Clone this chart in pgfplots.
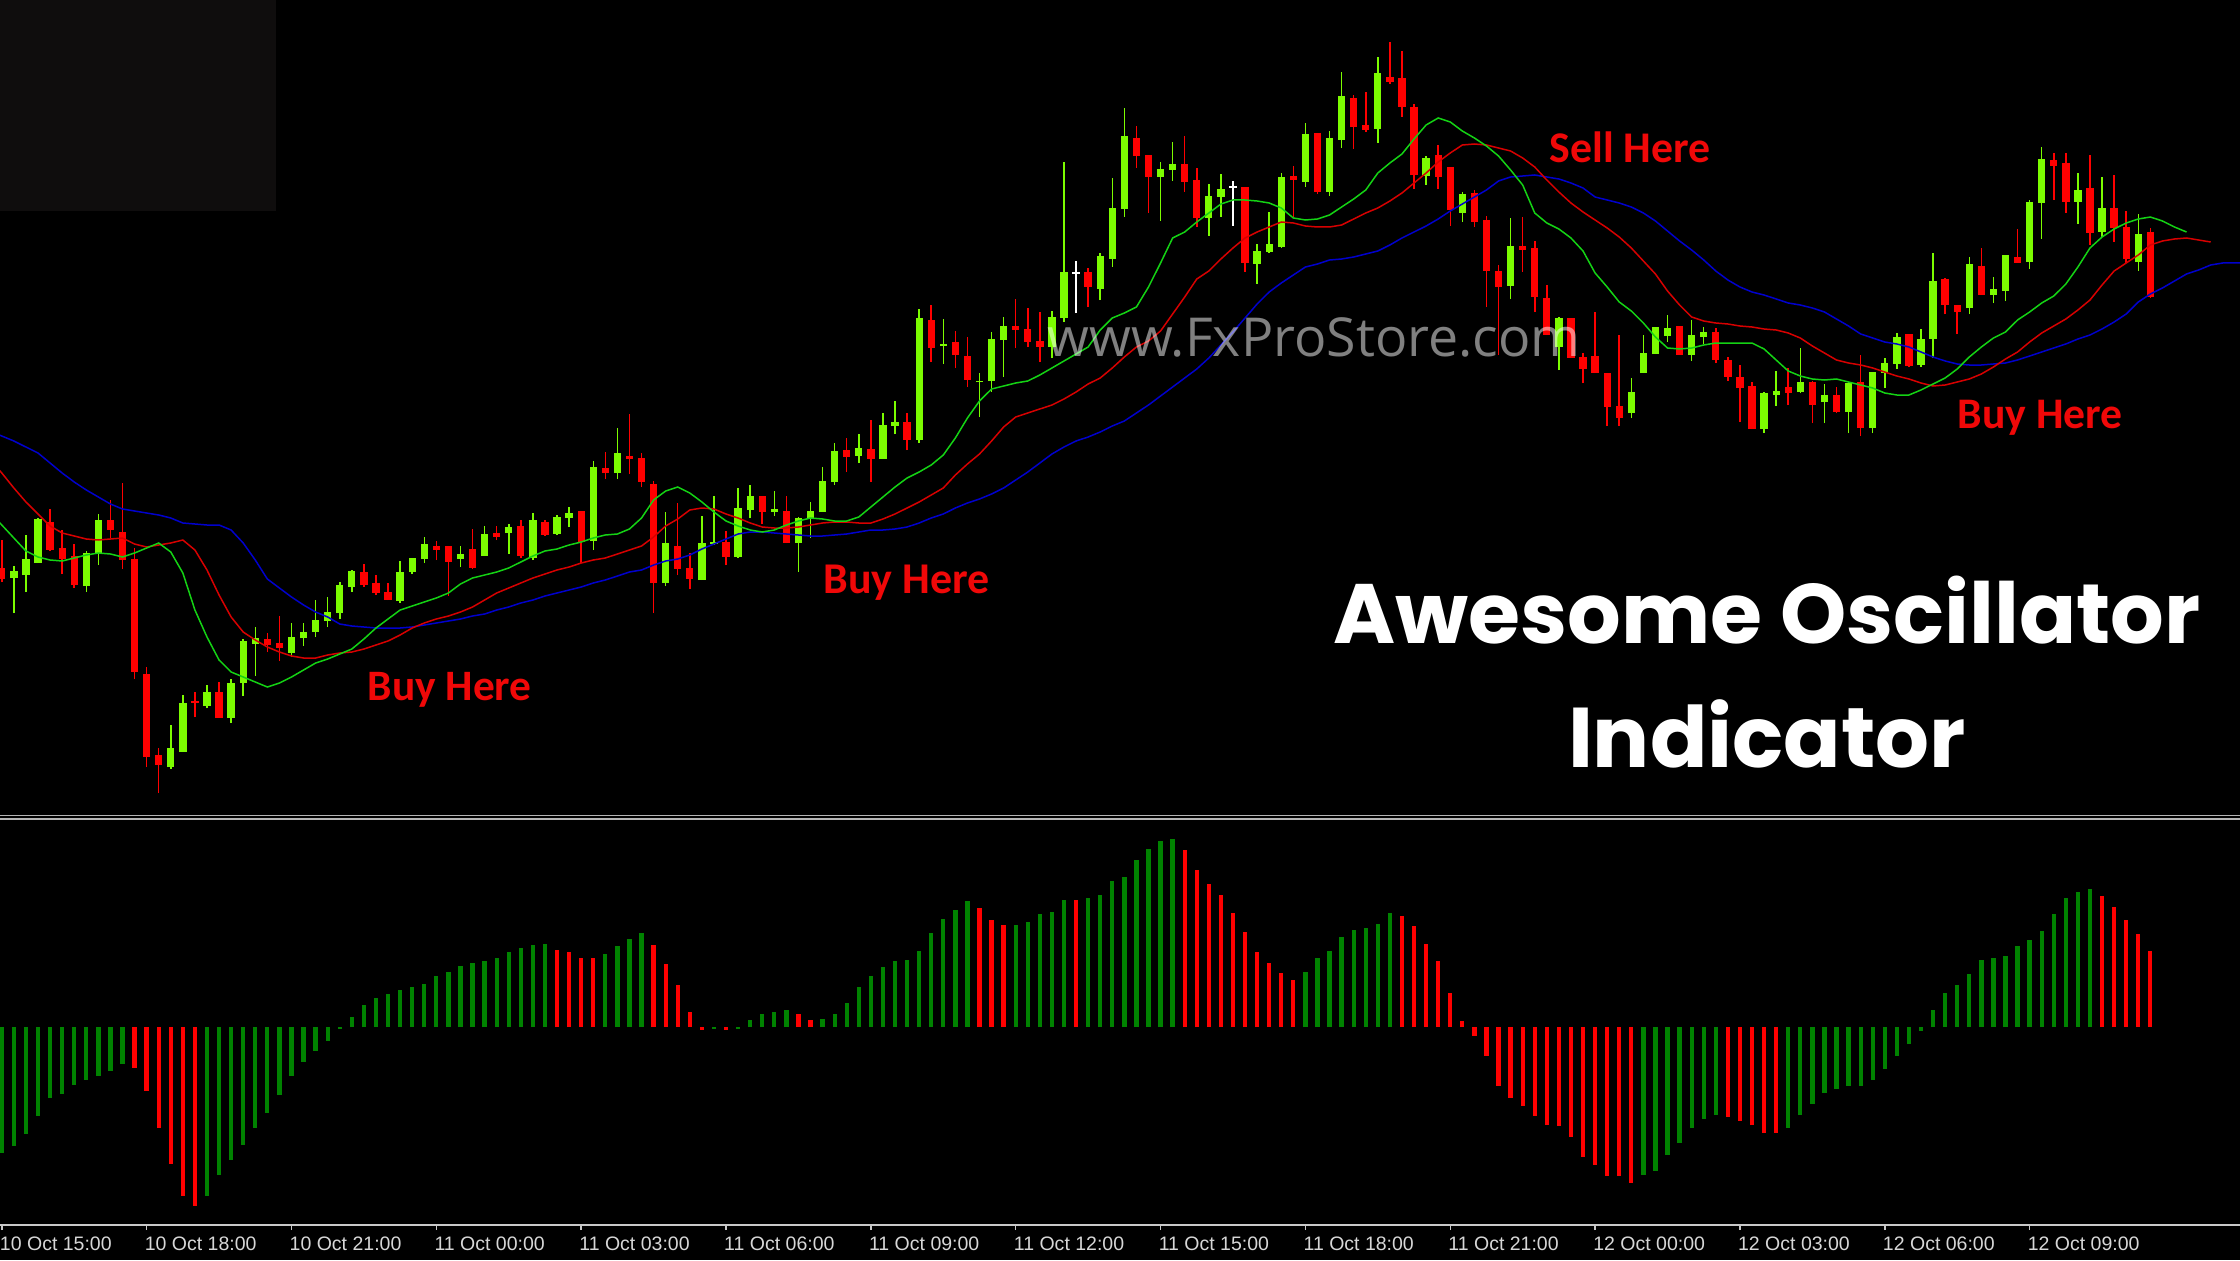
\documentclass[border=0pt]{standalone}
\usepackage{pgfplots}
\pgfplotsset{compat=1.18}
\usepackage{pgfplotstable}
\usepackage{graphicx}
\usepackage{fontspec}
\setmainfont{Liberation Sans}
\newfontfamily\titlefont{Poppins}
\newfontfamily\notefont{Carlito}
\newfontfamily\markfont{Open Sans}

\definecolor{bull}{RGB}{124,252,0}
\definecolor{bear}{RGB}{255,0,0}
\definecolor{jaw}{RGB}{0,0,205}
\definecolor{teeth}{RGB}{215,0,0}
\definecolor{lips}{RGB}{20,210,20}
\definecolor{aoup}{RGB}{0,130,0}
\definecolor{aodown}{RGB}{255,0,0}
\definecolor{axisgray}{RGB}{200,200,200}
\definecolor{labelgray}{RGB}{215,215,215}
\definecolor{sepgray}{RGB}{180,180,180}
\definecolor{panelbox}{RGB}{15,13,13}
\definecolor{note}{RGB}{240,8,8}

% 15-minute candles: bar index, open, high, low, close
\pgfplotstableread{
i O H L C
0 262 290 248 251
1 252 264 217 259
2 255 295 238 271
3 267 312 267 311
4 308 321 279 280
5 282 300 256 271
6 274 286 242 245
7 244 279 238 277
8 276 316 265 310
9 310 330 292 300
10 298 347 261 270
11 271 282 151 158
12 156 163 63 73
13 75 82 37 65
14 63 105 61 82
15 78 135 78 127
16 129 138 113 127
17 124 145 122 138
18 138 148 112 112
19 112 151 107 147
20 147 191 134 189
21 186 203 154 192
22 191 197 178 185
23 187 214 169 182
24 177 207 173 193
25 192 207 184 198
26 198 230 193 210
27 209 233 203 218
28 217 248 211 245
29 243 260 238 259
30 258 266 243 245
31 247 255 235 237
32 238 247 230 230
33 229 269 227 258
34 258 272 256 272
35 271 293 267 286
36 284 289 270 280
37 284 284 234 268
38 271 284 263 276
39 281 301 261 262
40 274 304 274 296
41 297 304 290 293
42 297 306 276 303
43 304 310 272 274
44 272 317 270 310
45 308 310 294 295
46 296 315 295 313
47 312 323 303 317
48 319 319 267 288
49 289 369 280 363
50 362 378 351 357
51 357 402 351 377
52 374 416 356 371
53 372 377 343 348
54 346 349 217 247
55 247 318 244 287
56 284 327 255 261
57 262 277 241 251
58 250 314 250 287
59 286 334 285 288
60 288 299 265 273
61 273 342 272 322
62 320 345 312 334
63 334 334 306 318
64 318 339 314 321
65 319 334 287 287
66 287 313 258 312
67 311 328 292 319
68 318 363 318 349
69 348 387 345 379
70 380 392 358 373
71 374 396 367 382
72 381 410 348 371
73 371 417 371 405
74 404 429 396 408
75 408 417 380 390
76 390 521 387 512
77 510 525 468 482
78 484 511 466 486
79 488 499 462 475
80 474 493 443 450
81 448 457 413 449
82 449 498 438 491
83 490 513 453 504
84 504 531 482 500
85 501 522 483 488
86 489 518 468 483
87 483 519 472 513
88 512 668 508 558
89 557 569 517 557
90 558 562 523 543
91 541 577 530 574
92 571 652 563 622
93 621 722 613 694
94 692 704 662 674
95 675 675 617 653
96 653 668 609 661
97 660 688 649 666
98 666 694 638 648
99 650 662 603 612
100 612 646 594 634
101 633 656 613 641
102 643 649 604 643
103 643 643 558 567
104 566 586 546 579
105 578 618 577 586
106 583 657 582 653
107 654 664 613 650
108 648 707 643 696
109 697 697 636 638
110 638 699 634 692
111 690 758 682 734
112 732 735 681 703
113 705 738 698 700
114 701 773 687 757
115 753 788 746 748
116 752 779 713 723
117 723 726 641 655
118 654 674 645 672
119 675 685 641 653
120 663 663 604 620
121 617 638 608 636
122 637 640 603 608
123 610 614 523 559
124 559 565 475 543
125 544 612 531 584
126 584 613 558 580
127 582 589 518 533
128 532 545 495 495
129 483 513 460 512
130 512 512 472 472
131 473 477 447 461
132 474 518 457 457
133 457 457 404 423
134 424 495 404 412
135 417 452 412 438
136 457 495 457 477
137 476 503 476 503
138 494 515 488 502
139 504 504 475 475
140 475 510 469 495
141 493 503 486 498
142 498 502 467 470
143 470 473 449 453
144 453 465 408 442
145 444 448 401 401
146 401 438 397 437
147 435 459 424 439
148 443 462 425 437
149 438 482 437 448
150 448 449 407 425
151 428 446 407 435
152 435 443 417 418
153 418 448 397 447
154 448 475 394 402
155 402 458 397 458
156 457 472 442 467
157 466 497 461 493
158 496 496 463 464
159 465 501 463 491
160 491 577 472 549
161 551 552 516 525
162 525 525 496 518
163 522 573 516 566
164 564 582 535 535
165 535 553 527 541
166 539 575 529 575
167 573 601 567 567
168 568 630 561 628
169 627 683 591 671
170 670 677 630 664
171 667 677 617 628
172 628 657 606 640
173 642 675 585 597
174 598 653 593 622
175 622 655 588 602
176 603 619 567 571
177 568 616 559 596
178 598 602 532 533
}\candles

% Alligator lines (jaw, teeth, lips), already shifted forward
\pgfplotstableread{
i B R G
-1 399 371 318
0 394 357 305
1 389 342 292
2 383 328 279
3 377 316 273
4 367 304 270
5 357 297 269
6 348 294 272
7 340 291 275
8 333 290 277
9 326 291 276
10 321 292 273
11 319 286 277
12 317 283 282
13 315 285 287
14 312 287 278
15 307 290 257
16 306 280 220
17 305 260 193
18 305 235 170
19 300 213 158
20 287 198 153
21 270 190 148
22 251 183 143
23 242 178 147
24 233 174 153
25 225 172 160
26 218 172 167
27 213 175 171
28 206 177 176
29 204 178 181
30 203 181 191
31 202 185 202
32 202 189 211
33 202 195 220
34 203 202 224
35 205 207 228
36 207 211 232
37 209 214 237
38 211 218 246
39 214 223 252
40 216 230 255
41 220 237 258
42 223 242 262
43 227 247 268
44 230 252 274
45 234 256 279
46 237 260 281
47 240 263 285
48 243 267 288
49 247 270 292
50 250 272 295
51 254 276 296
52 258 280 301
53 260 284 312
54 265 293 330
55 269 304 339
56 271 311 343
57 275 320 337
58 281 322 328
59 286 321 318
60 291 316 309
61 296 312 304
62 298 307 300
63 298 303 298
64 297 302 300
65 296 302 305
66 295 303 309
67 294 305 312
68 294 307 311
69 295 308 309
70 296 308 309
71 298 307 313
72 300 307 323
73 300 311 333
74 301 316 343
75 303 322 352
76 307 328 358
77 312 335 365
78 316 342 375
79 322 355 392
80 327 366 412
81 331 376 429
82 336 389 441
83 342 403 444
84 350 413 447
85 358 417 449
86 367 421 455
87 376 425 462
88 383 431 469
89 389 438 476
90 393 446 483
91 398 452 500
92 404 462 512
93 409 473 517
94 417 483 523
95 425 489 543
96 434 499 567
97 443 516 592
98 452 533 598
99 461 551 608
100 472 559 617
101 485 571 626
102 498 582 630
103 512 592 630
104 526 598 629
105 538 603 627
106 547 608 622
107 555 607 612
108 563 604 610
109 566 603 611
110 570 603 615
111 571 605 623
112 573 611 631
113 576 617 640
114 579 622 657
115 585 629 667
116 592 637 676
117 598 647 691
118 604 657 705
119 611 668 712
120 619 677 708
121 626 685 699
122 633 686 692
123 640 685 684
124 649 682 674
125 653 679 660
126 654 672 645
127 655 663 617
128 653 650 607
129 651 638 601
130 647 627 592
131 642 618 579
132 633 610 557
133 630 602 543
134 627 593 528
135 623 582 519
136 617 569 507
137 609 556 493
138 599 539 482
139 589 525 481
140 580 513 482
141 570 509 485
142 559 507 487
143 550 506 487
144 543 504 487
145 538 503 487
146 535 501 481
147 531 500 470
148 527 497 459
149 525 492 454
150 522 484 451
151 518 477 450
152 511 470 451
153 504 467 448
154 496 465 445
155 492 462 442
156 488 458 437
157 486 454 435
158 483 451 435
159 478 447 440
160 473 444 446
161 469 445 452
162 466 448 461
163 465 451 473
164 465 456 483
165 466 463 492
166 467 471 498
167 470 478 510
168 474 488 518
169 478 497 527
170 482 504 534
171 486 511 546
172 491 520 563
173 495 530 582
174 501 545 593
175 508 559 601
176 516 567 607
177 528 575 611
178 536 585 613
179 542 589 609
180 549 591 603
181 556 592 598
182 560 590 nan
183 565 588 nan
184 567 nan nan
185 567 nan nan
186 567 nan nan
}\alligator

% Awesome Oscillator histogram: bar index, value, rising flag
\pgfplotstableread{
i a g
0 -126 1
1 -119.3 1
2 -107 1
3 -88.7 1
4 -71 1
5 -66.7 1
6 -57.7 1
7 -52.7 1
8 -48.7 1
9 -43.7 1
10 -36.7 1
11 -41 0
12 -63.7 0
13 -101 0
14 -136.7 0
15 -168.7 0
16 -179.3 0
17 -168.7 1
18 -147.7 1
19 -132.7 1
20 -117.7 1
21 -101 1
22 -86 1
23 -68.3 1
24 -48.7 1
25 -35 1
26 -24.3 1
27 -13.7 1
28 -1.7 1
29 9.7 1
30 21.7 1
31 29 1
32 33 1
33 36.7 1
34 40 1
35 43.3 1
36 50.7 1
37 55 1
38 61.3 1
39 64 1
40 65.7 1
41 69 1
42 74.7 1
43 79 1
44 82.3 1
45 82.7 1
46 77.3 0
47 75 0
48 69 0
49 68.7 0
50 73.3 1
51 80.7 1
52 88.3 1
53 94 1
54 82.3 0
55 63 0
56 41.7 0
57 14.7 0
58 -3 0
59 -2 1
60 -3 0
61 -2.3 1
62 7.3 1
63 13 1
64 14.7 1
65 17.3 1
66 13 0
67 7.3 0
68 8.3 1
69 13 1
70 24 1
71 40 1
72 50.7 1
73 59.7 1
74 65.7 1
75 67.3 1
76 76.3 1
77 94 1
78 108 1
79 117.3 1
80 126.3 1
81 119 0
82 106.7 0
83 101.7 0
84 102 1
85 104.7 1
86 113.3 1
87 115 1
88 127.3 1
89 127 0
90 129 1
91 131.7 1
92 145.7 1
93 150 1
94 166.7 1
95 178.3 1
96 186.3 1
97 188 1
98 177.3 0
99 157.3 0
100 143 0
101 132.3 0
102 114 0
103 94.7 0
104 75 0
105 64 0
106 54 0
107 47.3 0
108 55 1
109 69 1
110 76.3 1
111 90 1
112 97.3 1
113 99 1
114 103.3 1
115 114 1
116 110.7 0
117 100.7 0
118 83.3 0
119 65.7 0
120 34 0
121 5.7 0
122 -9.3 0
123 -29.3 0
124 -59.3 0
125 -71 0
126 -78.7 0
127 -88.7 0
128 -97.7 0
129 -99 0
130 -110.3 0
131 -130 0
132 -137.7 0
133 -148.7 0
134 -149.3 0
135 -156 0
136 -147.7 1
137 -143.7 1
138 -127.7 1
139 -116 1
140 -101 1
141 -92 1
142 -87.7 1
143 -90.3 0
144 -93.7 0
145 -97.7 0
146 -106 0
147 -106.3 0
148 -101 1
149 -87.7 1
150 -77 1
151 -66 1
152 -62 1
153 -59.3 1
154 -58.7 1
155 -52.7 1
156 -42 1
157 -28.7 1
158 -16.7 1
159 -4 1
160 17.3 1
161 34 1
162 41.7 1
163 53.3 1
164 67.3 1
165 69 1
166 70.7 1
167 80.7 1
168 86.7 1
169 95.7 1
170 113.3 1
171 129 1
172 135 1
173 138 1
174 130.7 0
175 120 0
176 106.7 0
177 93 0
178 76.3 0
}\aotable

\pgfplotsset{
  wick/.style={line width=0.15mm, quiver={u=0, v=\thisrow{H}-\thisrow{L}}},
  body/.style={line width=0.73mm, quiver={u=0, v=\thisrow{C}-\thisrow{O}}},
}

\begin{document}
\begin{tikzpicture}
\fill[black] (0,0) rectangle (224mm,126mm);
\fill[panelbox] (0,104.9mm) rectangle (27.6mm,126mm);

% price panel
\begin{axis}[
  at={(0,44.5mm)}, anchor=south west,
  width=224mm, height=81.5mm, scale only axis,
  xmin=-0.149, xmax=185.43, ymin=15, ymax=830,
  hide axis, clip=true,
]
% wicks
\addplot[bull, wick, x filter/.expression={\thisrow{C}>\thisrow{O} ? x : nan}] table[x=i, y=L] {\candles};
\addplot[bear, wick, x filter/.expression={\thisrow{C}<\thisrow{O} ? x : nan}] table[x=i, y=L] {\candles};
\addplot[white, wick, x filter/.expression={\thisrow{C}==\thisrow{O} ? x : nan}] table[x=i, y=L] {\candles};
% bodies
\addplot[bull, body, x filter/.expression={\thisrow{C}>\thisrow{O} ? x : nan}] table[x=i, y=O] {\candles};
\addplot[bear, body, x filter/.expression={\thisrow{C}<\thisrow{O} ? x : nan}] table[x=i, y=O] {\candles};
\addplot[white, line width=0.15mm, quiver={u=0.6, v=0}, x filter/.expression={\thisrow{C}==\thisrow{O} ? x-0.3 : nan}] table[x=i, y=O] {\candles};
% alligator
\addplot[jaw, line width=0.15mm] table[x=i, y=B] {\alligator};
\addplot[teeth, line width=0.15mm] table[x=i, y=R] {\alligator};
\addplot[lips, line width=0.15mm] table[x=i, y=G] {\alligator};
\end{axis}

% oscillator panel
\begin{axis}[
  at={(0,3.5mm)}, anchor=south west,
  width=224mm, height=40.5mm, scale only axis,
  xmin=-0.149, xmax=185.43, ymin=-198, ymax=207,
  axis x line=bottom, axis y line=none,
  x axis line style={-, draw=axisgray, line width=0.15mm},
  ytick=\empty,
  xtick={0,12,...,168},
  xticklabels={10 Oct 15:00,10 Oct 18:00,10 Oct 21:00,11 Oct 00:00,11 Oct 03:00,11 Oct 06:00,11 Oct 09:00,11 Oct 12:00,11 Oct 15:00,11 Oct 18:00,11 Oct 21:00,12 Oct 00:00,12 Oct 03:00,12 Oct 06:00,12 Oct 09:00},
  tick align=outside, major tick length=0.5mm,
  tick style={draw=axisgray, line width=0.15mm},
  xticklabel style={anchor=base west, inner sep=0pt, xshift=-0.25mm, yshift=-2.0mm,
    text=labelgray, font=\fontsize{5.55pt}{6pt}\selectfont},
  clip=true,
]
\addplot[aoup, line width=0.43mm, quiver={u=0, v=\thisrow{a}}, x filter/.expression={\thisrow{g}>0 ? x : nan}] table[x=i, y expr=0] {\aotable};
\addplot[aodown, line width=0.43mm, quiver={u=0, v=\thisrow{a}}, x filter/.expression={\thisrow{g}<1 ? x : nan}] table[x=i, y expr=0] {\aotable};
\end{axis}

% panel separator
\draw[sepgray, line width=0.15mm] (0,44.43mm) -- (224mm,44.43mm);
\draw[sepgray, line width=0.15mm] (0,44.1mm) -- (224mm,44.1mm);

% watermark
\node[anchor=base west, inner sep=0pt, text=white, text opacity=0.5] at (104.7mm,90.4mm)
  {\resizebox{53.3mm}{!}{\markfont www.FxProStore.com}};

% annotations
\node[anchor=base west, inner sep=0pt, text=note] at (36.7mm,56mm) {\resizebox{16.4mm}{!}{\notefont\bfseries Buy Here}};
\node[anchor=base west, inner sep=0pt, text=note] at (82.3mm,66.7mm) {\resizebox{16.6mm}{!}{\notefont\bfseries Buy Here}};
\node[anchor=base west, inner sep=0pt, text=note] at (154.9mm,109.8mm) {\resizebox{16.1mm}{!}{\notefont\bfseries Sell Here}};
\node[anchor=base west, inner sep=0pt, text=note] at (195.7mm,83.2mm) {\resizebox{16.5mm}{!}{\notefont\bfseries Buy Here}};

% title
\node[anchor=base, inner sep=0pt, text=white] at (176.7mm,61.7mm) {\resizebox{86.7mm}{!}{\titlefont\bfseries Awesome Oscillator}};
\node[anchor=base, inner sep=0pt, text=white] at (176.7mm,49.3mm) {\resizebox{39.8mm}{!}{\titlefont\bfseries Indicator}};

\pgfresetboundingbox
\path[use as bounding box] (0,0) rectangle (224mm,126mm);
\end{tikzpicture}
\end{document}
